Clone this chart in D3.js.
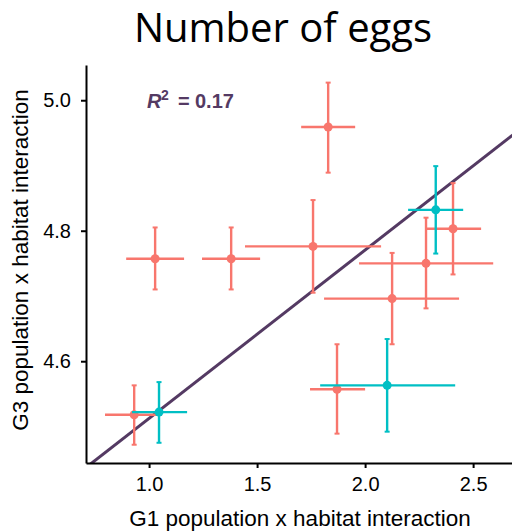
<!DOCTYPE html>
<html>
<head>
<meta charset="utf-8">
<script src="https://cdn.jsdelivr.net/npm/d3@7"></script>
<style>
  body { margin: 0; background: #fff; }
  svg { display: block; }
</style>
</head>
<body>
<svg id="chart"></svg>
<script>
// data
const groups = ["a", "a", "a", "a", "a", "a", "a", "a", "a", "b", "b", "b"];
const xMid = [1.829, 2.407, 1.759, 2.282, 2.125, 1.870, 0.931, 1.028, 1.380, 2.327, 2.102, 1.046];
const xLow = [1.704, 2.282, 1.444, 1.972, 1.810, 1.745, 0.796, 0.894, 1.245, 2.199, 1.792, 0.921];
const xHigh = [1.954, 2.537, 2.074, 2.593, 2.435, 2.000, 1.060, 1.162, 1.514, 2.454, 2.417, 1.176];
const yMid = [4.959, 4.803, 4.776, 4.750, 4.696, 4.557, 4.518, 4.757, 4.757, 4.832, 4.563, 4.522];
const yLow = [4.889, 4.733, 4.705, 4.681, 4.626, 4.489, 4.472, 4.710, 4.710, 4.765, 4.492, 4.475];
const yHigh = [5.027, 4.873, 4.847, 4.820, 4.766, 4.626, 4.563, 4.805, 4.805, 4.899, 4.634, 4.568];
const xTicks = [1.0, 1.5, 2.0, 2.5];
const yTicks = [4.6, 4.8, 5.0];
const fitLine = [[0.70, 4.435], [2.70, 4.951]];
const r2Label = "0.17";

const width = 512;
const height = 532;
const margin = {top: 65, right: 0, bottom: 69, left: 86};
const font = '"Liberation Sans", Arial, sans-serif';

const x = d3.scaleLinear().domain([0.708, 2.68]).range([margin.left, width - margin.right]);
const y = d3.scaleLinear().domain([4.444, 5.054]).range([height - margin.bottom, margin.top]);
const colour = d3.scaleOrdinal().domain(["a", "b"]).range(["#f8766d", "#00bfc4"]);

const svg = d3.select('#chart').attr('width', width).attr('height', height);

svg.append('defs').append('clipPath').attr('id', 'plot')
    .append('rect')
    .attr('x', margin.left).attr('y', margin.top)
    .attr('width', width - margin.left - margin.right)
    .attr('height', height - margin.top - margin.bottom);

// title
svg.append('text')
    .attr('x', 283).attr('y', 42)
    .attr('text-anchor', 'middle')
    .style('font-family', '"Open Sans", Lato, sans-serif')
    .style('font-size', '40px')
    .text('Number of eggs');

// regression line
svg.append('path')
    .attr('clip-path', 'url(#plot)')
    .attr('d', d3.line().x(d => x(d[0])).y(d => y(d[1]))(fitLine))
    .attr('stroke', '#543a63')
    .attr('stroke-width', 3)
    .attr('fill', 'none');

const idx = d3.range(groups.length).sort((a, b) => d3.ascending(groups[a], groups[b]));
const pts = svg.append('g').attr('clip-path', 'url(#plot)');

idx.forEach(i => {
    const c = colour(groups[i]);
    const g = pts.append('g').attr('stroke', c).attr('fill', c);
    g.append('line')
        .attr('x1', x(xLow[i])).attr('x2', x(xHigh[i]))
        .attr('y1', y(yMid[i])).attr('y2', y(yMid[i]))
        .attr('stroke-width', 2.4);
    g.append('line')
        .attr('x1', x(xMid[i])).attr('x2', x(xMid[i]))
        .attr('y1', y(yLow[i])).attr('y2', y(yHigh[i]))
        .attr('stroke-width', 2.4);
    [yLow[i], yHigh[i]].forEach(v => {
        g.append('line')
            .attr('x1', x(xMid[i]) - 2.5).attr('x2', x(xMid[i]) + 2.5)
            .attr('y1', y(v)).attr('y2', y(v))
            .attr('stroke-width', 2);
    });
    g.append('circle')
        .attr('cx', x(xMid[i])).attr('cy', y(yMid[i]))
        .attr('r', 4.5)
        .attr('stroke', 'none');
});

// R squared label
const r2 = svg.append('text')
    .attr('y', 108)
    .attr('fill', '#543a63')
    .style('font-family', font)
    .style('font-size', '20px')
    .style('font-weight', 'bold');
r2.append('tspan').attr('x', 147).style('font-style', 'italic').text('R');
r2.append('tspan').attr('x', 161).attr('y', 100).style('font-size', '14px').text('2');
r2.append('tspan').attr('x', 178).attr('y', 108).text('=');
r2.append('tspan').attr('x', 195).text(r2Label);

// axes
const xAxis = svg.append('g')
    .attr('transform', `translate(0,${height - margin.bottom})`)
    .call(d3.axisBottom(x).tickValues(xTicks).tickFormat(d3.format('.1f')).tickSize(5).tickSizeOuter(0));
const yAxis = svg.append('g')
    .attr('transform', `translate(${margin.left},0)`)
    .call(d3.axisLeft(y).tickValues(yTicks).tickFormat(d3.format('.1f')).tickSize(5).tickSizeOuter(0));

[xAxis, yAxis].forEach(a => {
    a.select('.domain').attr('stroke', '#000').attr('stroke-width', 2);
    a.selectAll('.tick line').attr('stroke', '#000').attr('stroke-width', 2);
    a.selectAll('.tick text')
        .attr('fill', '#000')
        .style('font-family', font)
        .style('font-size', '20px');
});
xAxis.selectAll('.tick text').attr('y', 9).attr('dy', '0.95em');
yAxis.selectAll('.tick text').attr('x', -15);

svg.append('text')
    .attr('x', 300).attr('y', 526)
    .attr('text-anchor', 'middle')
    .style('font-family', font)
    .style('font-size', '22.5px')
    .text('G1 population x habitat interaction');

svg.append('text')
    .attr('transform', 'translate(28,260) rotate(-90)')
    .attr('text-anchor', 'middle')
    .style('font-family', font)
    .style('font-size', '22.5px')
    .text('G3 population x habitat interaction');
</script>
</body>
</html>
